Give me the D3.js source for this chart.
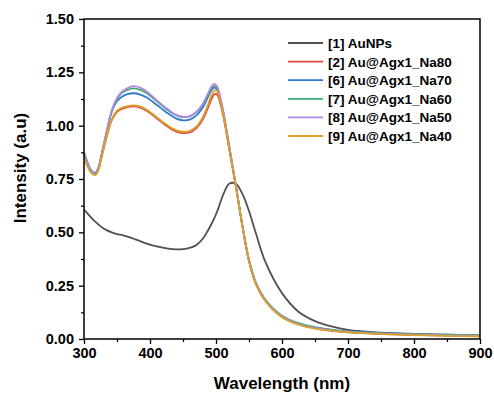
<!DOCTYPE html>
<html><head><meta charset="utf-8">
<script src="https://cdn.jsdelivr.net/npm/d3@7"></script>
<style>body{margin:0;background:#fff}svg{display:block}</style>
</head><body>
<svg id="c" width="494" height="394"></svg>
<script>
const wavelength = [300,305,310,315,318,322,328,335,342,350,358,366,375,385,395,410,425,440,450,460,470,480,488,494,498,502,506,512,520,530,540,550,560,575,600,625,650,675,700,750,800,850,900];
const s1_AuNPs = [0.607,0.59,0.572,0.556,0.548,0.536,0.522,0.509,0.500,0.492,0.487,0.480,0.470,0.459,0.447,0.434,0.425,0.420,0.421,0.427,0.440,0.470,0.510,0.545,0.570,0.600,0.635,0.685,0.728,0.728,0.680,0.600,0.500,0.360,0.215,0.128,0.084,0.059,0.043,0.030,0.024,0.020,0.017];
const s2_Na80 = [0.860,0.815,0.785,0.772,0.772,0.795,0.870,0.955,1.025,1.065,1.080,1.087,1.090,1.085,1.070,1.035,1.000,0.972,0.965,0.968,0.988,1.030,1.085,1.130,1.148,1.145,1.110,1.030,0.890,0.715,0.530,0.365,0.262,0.178,0.104,0.069,0.051,0.039,0.032,0.024,0.019,0.016,0.013];
const s6_Na70 = [0.875,0.830,0.795,0.780,0.780,0.805,0.885,0.980,1.065,1.115,1.137,1.148,1.152,1.146,1.132,1.098,1.062,1.033,1.025,1.028,1.047,1.085,1.135,1.170,1.178,1.168,1.128,1.045,0.900,0.720,0.530,0.368,0.265,0.181,0.106,0.071,0.053,0.041,0.034,0.026,0.021,0.018,0.015];
const s7_Na60 = [0.870,0.825,0.790,0.776,0.776,0.802,0.882,0.980,1.068,1.125,1.155,1.168,1.175,1.168,1.152,1.115,1.077,1.048,1.040,1.043,1.062,1.098,1.145,1.178,1.185,1.173,1.132,1.048,0.902,0.722,0.532,0.370,0.268,0.184,0.109,0.074,0.056,0.044,0.036,0.028,0.023,0.020,0.017];
const s8_Na50 = [0.870,0.825,0.790,0.775,0.773,0.800,0.880,0.980,1.070,1.130,1.160,1.176,1.185,1.178,1.160,1.120,1.082,1.050,1.042,1.045,1.065,1.102,1.152,1.188,1.196,1.183,1.140,1.052,0.905,0.722,0.530,0.368,0.265,0.180,0.105,0.070,0.052,0.040,0.033,0.025,0.020,0.017,0.014];
const s9_Na40 = [0.855,0.812,0.782,0.770,0.770,0.795,0.872,0.960,1.030,1.070,1.085,1.092,1.095,1.090,1.075,1.040,1.005,0.978,0.972,0.975,0.995,1.040,1.100,1.148,1.166,1.160,1.120,1.038,0.895,0.718,0.532,0.366,0.262,0.177,0.102,0.067,0.049,0.038,0.031,0.023,0.018,0.015,0.012];
const seriesNames = ["[1] AuNPs","[2] Au@Agx1_Na80","[6] Au@Agx1_Na70","[7] Au@Agx1_Na60","[8] Au@Agx1_Na50","[9] Au@Agx1_Na40"];
const seriesColors = ["#505050","#e34a40","#2f78cc","#3daa78","#b585e4","#d8a227"];
const seriesValues = [s1_AuNPs,s2_Na80,s6_Na70,s7_Na60,s8_Na50,s9_Na40];
const xTicks = [300,400,500,600,700,800,900];
const yTicks = [0,0.25,0.5,0.75,1.0,1.25,1.5];

const svg = d3.select("#c");
const L=84,R=480,T=19,B=339;
const x = d3.scaleLinear().domain([300,900]).range([L,R]);
const y = d3.scaleLinear().domain([0,1.5]).range([B,T]);

svg.append("defs").append("clipPath").attr("id","clip").append("rect")
  .attr("x",L).attr("y",T).attr("width",R-L).attr("height",B-T);

const line = d3.line().x(d=>x(d[0])).y(d=>y(d[1])).curve(d3.curveCatmullRom.alpha(0.5));
const g = svg.append("g").attr("clip-path","url(#clip)");
seriesValues.forEach((vals,i)=>{
  g.append("path").datum(wavelength.map((w,j)=>[w,vals[j]]))
   .attr("d",line).attr("fill","none").attr("stroke",seriesColors[i])
   .attr("stroke-width",1.8).attr("stroke-linejoin","round");
});

// frame
svg.append("rect").attr("x",L).attr("y",T).attr("width",R-L).attr("height",B-T)
  .attr("fill","none").attr("stroke","#000").attr("stroke-width",1.5);

const font = "Arial, 'Liberation Sans', sans-serif";
// x axis
const xAxis = d3.axisBottom(x).tickValues(xTicks).tickSize(5).tickPadding(4).tickFormat(d3.format("d"));
const xa = svg.append("g").attr("transform",`translate(0,${B})`).call(xAxis);
xa.select(".domain").remove();
xa.selectAll(".tick line").attr("stroke","#000").attr("stroke-width",1.3);
xa.selectAll("text").attr("font-family",font).attr("font-weight","bold").attr("font-size","14.5px").attr("fill","#000");
const xMinor = d3.axisBottom(x).tickValues([350,450,550,650,750,850]).tickSize(3).tickFormat("");
const xm = svg.append("g").attr("transform",`translate(0,${B})`).call(xMinor);
xm.select(".domain").remove(); xm.selectAll(".tick line").attr("stroke","#000").attr("stroke-width",1.2);

// y axis
const yAxis = d3.axisLeft(y).tickValues(yTicks).tickSize(5).tickPadding(5).tickFormat(d3.format(".2f"));
const ya = svg.append("g").attr("transform",`translate(${L},0)`).call(yAxis);
ya.select(".domain").remove();
ya.selectAll(".tick line").attr("stroke","#000").attr("stroke-width",1.3);
ya.selectAll("text").attr("font-family",font).attr("font-weight","bold").attr("font-size","14.5px").attr("fill","#000");
const yMinor = d3.axisLeft(y).tickValues([0.125,0.375,0.625,0.875,1.125,1.375]).tickSize(3).tickFormat("");
const ym = svg.append("g").attr("transform",`translate(${L},0)`).call(yMinor);
ym.select(".domain").remove(); ym.selectAll(".tick line").attr("stroke","#000").attr("stroke-width",1.2);

// titles
svg.append("text").attr("x",282).attr("y",389).attr("text-anchor","middle")
  .attr("font-family",font).attr("font-weight","bold").attr("font-size","17px").text("Wavelength (nm)");
svg.append("text").attr("transform","translate(26,168) rotate(-90)").attr("text-anchor","middle")
  .attr("font-family",font).attr("font-weight","bold").attr("font-size","17px").text("Intensity (a.u)");

// legend
const lg = svg.append("g");
seriesNames.forEach((n,i)=>{
  const yy = 43 + i*18.6;
  lg.append("line").attr("x1",288).attr("x2",323).attr("y1",yy).attr("y2",yy)
    .attr("stroke",seriesColors[i]).attr("stroke-width",1.8);
  lg.append("text").attr("x",328).attr("y",yy+5).attr("font-family",font)
    .attr("font-weight","bold").attr("font-size","13.5px").attr("fill","#000").text(n);
});
</script>
</body></html>
